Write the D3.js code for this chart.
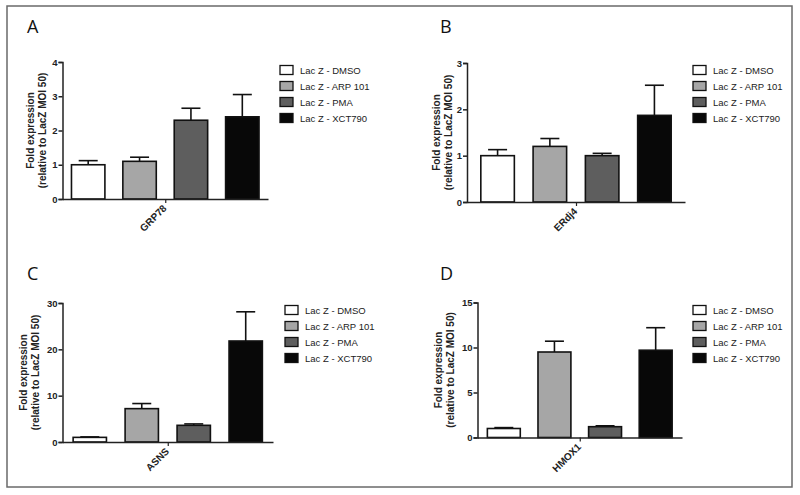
<!DOCTYPE html>
<html>
<head>
<meta charset="utf-8">
<script src="https://cdn.jsdelivr.net/npm/d3@7"></script>
<style>
  html, body { margin: 0; padding: 0; background: #fff; }
  svg { display: block; }
</style>
</head>
<body>
<svg id="chart" width="800" height="495"></svg>
<script>
// ---------- DATA ----------
const seriesNames = ["Lac Z - DMSO", "Lac Z - ARP 101", "Lac Z - PMA", "Lac Z - XCT790"];
const seriesColors = ["#ffffff", "#a6a6a6", "#5e5e5e", "#080808"];
const panelLetters = ["A", "B", "C", "D"];
const geneLabels = ["GRP78", "ERdj4", "ASNS", "HMOX1"];
const grp78Values = [1.0, 1.1, 2.3, 2.4];
const grp78Errors = [0.12, 0.12, 0.35, 0.65];
const erdj4Values = [1.0, 1.2, 1.0, 1.87];
const erdj4Errors = [0.13, 0.17, 0.05, 0.65];
const asnsValues = [1.0, 7.2, 3.6, 21.8];
const asnsErrors = [0.1, 1.1, 0.3, 6.3];
const hmox1Values = [1.0, 9.5, 1.2, 9.7];
const hmox1Errors = [0.1, 1.2, 0.1, 2.5];
const grp78Ticks = [0, 1, 2, 3, 4];
const erdj4Ticks = [0, 1, 2, 3];
const asnsTicks = [0, 10, 20, 30];
const hmox1Ticks = [0, 5, 10, 15];
const yTitle1 = "Fold expression";
const yTitle2 = "(relative to LacZ MOI 50)";

// ---------- LAYOUT ----------
const panels = [
  { values: grp78Values, errors: grp78Errors, ticks: grp78Ticks,
    x0: 62.5, x1: 268, y0: 199, y1: 62, inner: 0.32, outer: 0.16,
    letter: [27, 33], title: [30, 42], legend: [280, 300, 70] },
  { values: erdj4Values, errors: erdj4Errors, ticks: erdj4Ticks,
    x0: 467, x1: 685, y0: 202, y1: 63, inner: 0.33, outer: 0.25,
    letter: [440, 33], title: [436, 448], legend: [693, 713, 70] },
  { values: asnsValues, errors: asnsErrors, ticks: asnsTicks,
    x0: 62.5, x1: 273, y0: 442, y1: 303, inner: 0.33, outer: 0.19,
    letter: [27, 280], title: [23, 35], legend: [285, 305, 310] },
  { values: hmox1Values, errors: hmox1Errors, ticks: hmox1Ticks,
    x0: 477.5, x1: 682, y0: 437.5, y1: 302.5, inner: 0.32, outer: 0.18,
    letter: [440, 280], title: [438, 450], legend: [693, 713, 310] }
];

const svg = d3.select("#chart");

// outer frame
svg.append("rect")
  .attr("x", 7).attr("y", 6).attr("width", 785).attr("height", 481)
  .attr("fill", "none").attr("stroke", "#6a6a6a").attr("stroke-width", 1.5);

panels.forEach((p, i) => {
  const g = svg.append("g");
  const x = d3.scaleBand().domain(seriesNames).range([p.x0, p.x1])
    .paddingInner(p.inner).paddingOuter(p.outer);
  const yMax = p.ticks[p.ticks.length - 1];
  const y = d3.scaleLinear().domain([0, yMax]).range([p.y0, p.y1]);

  const data = seriesNames.map((s, k) => ({ s, v: p.values[k], e: p.errors[k], c: seriesColors[k] }));

  // error bars (behind bars)
  const eb = g.append("g").attr("stroke", "#111").attr("stroke-width", 1.6).attr("fill", "none");
  data.forEach(d => {
    const cx = x(d.s) + x.bandwidth() / 2;
    eb.append("line").attr("x1", cx).attr("x2", cx).attr("y1", y(d.v)).attr("y2", y(d.v + d.e));
    eb.append("line").attr("x1", cx - 9.5).attr("x2", cx + 9.5).attr("y1", y(d.v + d.e)).attr("y2", y(d.v + d.e));
  });

  // bars
  g.append("g").selectAll("rect").data(data).join("rect")
    .attr("x", d => x(d.s) + 0.75)
    .attr("width", x.bandwidth() - 1.5)
    .attr("y", d => y(d.v))
    .attr("height", d => y(0) - y(d.v))
    .attr("fill", d => d.c)
    .attr("stroke", "#111").attr("stroke-width", 1.6);

  // y axis
  const ya = g.append("g").attr("transform", `translate(${p.x0},0)`)
    .call(d3.axisLeft(y).tickValues(p.ticks).tickSize(4).tickPadding(1).tickFormat(d3.format("d")));
  ya.select(".domain").attr("stroke", "#222").attr("stroke-width", 1.5);
  ya.selectAll(".tick line").attr("stroke", "#222").attr("stroke-width", 1.5);
  ya.selectAll("text").attr("font-family", "Liberation Sans, Arial, sans-serif")
    .attr("font-size", 9.5).attr("font-weight", "bold").attr("fill", "#222");

  // x axis baseline with single centre tick
  const xa = g.append("g").attr("transform", `translate(0,${p.y0})`)
    .call(d3.axisBottom(d3.scalePoint().domain([geneLabels[i]]).range([p.x0, p.x1]).padding(0.5))
      .tickSize(4).tickSizeOuter(0).tickFormat(""));
  xa.select(".domain").attr("stroke", "#222").attr("stroke-width", 1.5);
  xa.selectAll(".tick line").attr("stroke", "#222").attr("stroke-width", 1.2);

  // category label
  const cxMid = (p.x0 + p.x1) / 2;
  g.append("text")
    .attr("transform", `translate(${cxMid + 2},${p.y0 + 10}) rotate(-45)`)
    .attr("text-anchor", "end")
    .attr("font-family", "Liberation Sans, Arial, sans-serif")
    .attr("font-size", 10).attr("font-weight", "bold").attr("fill", "#222")
    .text(geneLabels[i]);

  // y titles
  const midY = (p.y0 + p.y1) / 2;
  [yTitle1, yTitle2].forEach((t, k) => {
    g.append("text")
      .attr("transform", `translate(${p.title[k] + 4},${midY}) rotate(-90)`)
      .attr("text-anchor", "middle")
      .attr("font-family", "Liberation Sans, Arial, sans-serif")
      .attr("font-size", 10).attr("font-weight", "bold").attr("fill", "#222")
      .text(t);
  });

  // panel letter
  g.append("text").attr("x", p.letter[0]).attr("y", p.letter[1])
    .attr("font-family", "Open Sans, sans-serif").attr("font-size", 18)
    .attr("fill", "#111").text(panelLetters[i]);

  // legend
  const lg = g.append("g");
  seriesNames.forEach((s, k) => {
    const cy = p.legend[2] + k * 16;
    lg.append("rect").attr("x", p.legend[0]).attr("y", cy - 4.5)
      .attr("width", 13).attr("height", 9)
      .attr("fill", seriesColors[k]).attr("stroke", "#111").attr("stroke-width", 1.3);
    lg.append("text").attr("x", p.legend[1]).attr("y", cy + 3.5)
      .attr("font-family", "Liberation Sans, Arial, sans-serif")
      .attr("font-size", 9.5).attr("fill", "#222").text(s);
  });
});
</script>
</body>
</html>
